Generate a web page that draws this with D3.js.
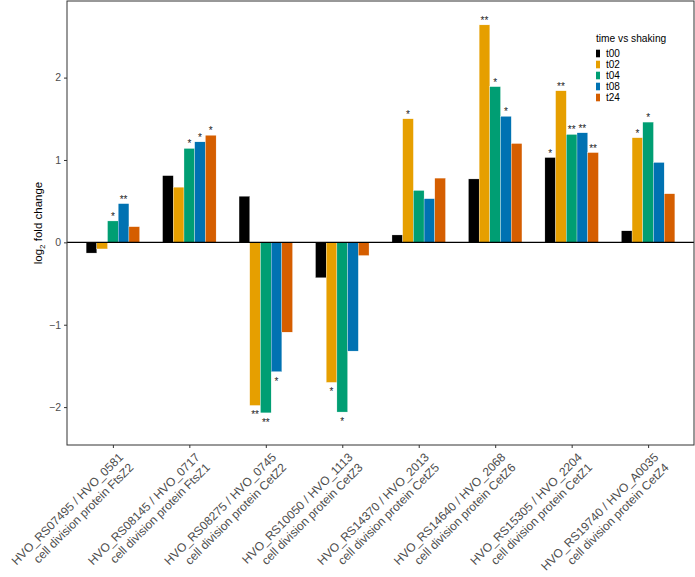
<!DOCTYPE html>
<html>
<head>
<meta charset="utf-8">
<script src="https://cdn.jsdelivr.net/npm/d3@7"></script>
<style>
  html, body { margin: 0; padding: 0; background: #fff; }
  svg { display: block; font-family: "Liberation Sans", Arial, Helvetica, sans-serif; }
</style>
</head>
<body>
<svg id="chart" width="695" height="577"></svg>
<script>
const genes = [
  ["HVO_RS07495 / HVO_0581", "cell division protein FtsZ2"],
  ["HVO_RS08145 / HVO_0717", "cell division protein FtsZ1"],
  ["HVO_RS08275 / HVO_0745", "cell division protein CetZ2"],
  ["HVO_RS10050 / HVO_1113", "cell division protein CetZ3"],
  ["HVO_RS14370 / HVO_2013", "cell division protein CetZ5"],
  ["HVO_RS14640 / HVO_2068", "cell division protein CetZ6"],
  ["HVO_RS15305 / HVO_2204", "cell division protein CetZ1"],
  ["HVO_RS19740 / HVO_A0035", "cell division protein CetZ4"]
];
const timepoints = ["t00", "t02", "t04", "t08", "t24"];
const colors = ["#000000", "#E69F00", "#009E73", "#0072B2", "#D55E00"];

// log2 fold change per timepoint (one array per series, order = genes)
const t00 = [-0.13, 0.81, 0.56, -0.43, 0.09, 0.77, 1.03, 0.14];
const t02 = [-0.08, 0.67, -1.98, -1.70, 1.50, 2.64, 1.84, 1.27];
const t04 = [0.26, 1.14, -2.07, -2.06, 0.63, 1.89, 1.31, 1.46];
const t08 = [0.47, 1.22, -1.57, -1.32, 0.53, 1.53, 1.33, 0.97];
const t24 = [0.19, 1.30, -1.09, -0.16, 0.78, 1.20, 1.09, 0.59];

// significance labels
const sig00 = ["", "", "", "", "", "", "*", ""];
const sig02 = ["", "", "**", "*", "*", "**", "**", "*"];
const sig04 = ["*", "*", "**", "*", "", "*", "**", "*"];
const sig08 = ["**", "*", "*", "", "", "*", "**", ""];
const sig24 = ["", "*", "", "", "", "", "**", ""];

const yTicks = [-2, -1, 0, 1, 2];
const yDomain = [-2.46, 2.93];

const series = [t00, t02, t04, t08, t24];
const sigs = [sig00, sig02, sig04, sig08, sig24];

const svg = d3.select("#chart");
const P = { left: 67, right: 694, top: 1, bottom: 445 };

const xPos = d3.scaleLinear().domain([0.4, genes.length + 0.6]).range([P.left, P.right]);
const y = d3.scaleLinear().domain(yDomain).range([P.bottom, P.top]);

const groupWidth = 0.7;
const barW = groupWidth / timepoints.length;

const data = [];
series.forEach((arr, si) => {
  arr.forEach((v, gi) => {
    data.push({ gi, si, v, sig: sigs[si][gi] });
  });
});

function gi1(d) { return d.gi + 1; }

// bars
svg.append("g").selectAll("rect").data(data).join("rect")
  .attr("x", d => xPos(gi1(d) - groupWidth / 2 + d.si * barW))
  .attr("width", d => xPos(barW) - xPos(0))
  .attr("y", d => y(Math.max(0, d.v)))
  .attr("height", d => Math.abs(y(d.v) - y(0)))
  .attr("fill", d => colors[d.si])
  .attr("stroke", "#ffffff")
  .attr("stroke-width", 0.3);

// significance stars
svg.append("g").selectAll("text").data(data.filter(d => d.sig)).join("text")
  .attr("x", d => xPos(gi1(d) - groupWidth / 2 + (d.si + 0.5) * barW))
  .attr("y", d => d.v >= 0 ? y(d.v) - 1 : y(d.v) + 13)
  .attr("text-anchor", "middle")
  .attr("font-size", 10)
  .attr("fill", "#222")
  .text(d => d.sig);

// zero line
svg.append("line")
  .attr("x1", P.left).attr("x2", P.right)
  .attr("y1", y(0)).attr("y2", y(0))
  .attr("stroke", "#000").attr("stroke-width", 1.1);

// panel border
svg.append("rect")
  .attr("x", P.left).attr("y", P.top)
  .attr("width", P.right - P.left).attr("height", P.bottom - P.top)
  .attr("fill", "none").attr("stroke", "#333").attr("stroke-width", 1);

// y axis
const yAxis = d3.axisLeft(y).tickValues(yTicks).tickSize(3).tickPadding(3)
  .tickFormat(d => d < 0 ? "\u2212" + Math.abs(d) : d);
const ya = svg.append("g").attr("transform", `translate(${P.left},0)`).call(yAxis);
ya.select(".domain").remove();
ya.selectAll("line").attr("stroke", "#333");
ya.selectAll("text").attr("font-size", 10.5).attr("fill", "#4d4d4d")
  .attr("font-family", "Liberation Sans, Arial, sans-serif");

// x axis
const xAxis = d3.axisBottom(xPos).tickValues(d3.range(1, genes.length + 1)).tickSize(3).tickFormat("");
const xa = svg.append("g").attr("transform", `translate(0,${P.bottom})`).call(xAxis);
xa.select(".domain").remove();
xa.selectAll("line").attr("stroke", "#333");

// x labels (rotated, two lines, right aligned)
const xl = svg.append("g").selectAll("g").data(genes).join("g")
  .attr("transform", (d, i) => `translate(${xPos(i + 1) + 5},${P.bottom + 7}) rotate(-45)`);
const t = xl.append("text")
  .attr("text-anchor", "end")
  .attr("font-size", 12)
  .attr("fill", "#4d4d4d");
t.append("tspan").attr("x", 0).attr("dy", "0.72em").text(d => d[0]);
t.append("tspan").attr("x", 0).attr("dy", "1.2em").text(d => d[1]);

// y title
const yt = svg.append("text")
  .attr("transform", `translate(42,${(P.top + P.bottom) / 2}) rotate(-90)`)
  .attr("text-anchor", "middle")
  .attr("font-size", 11.5)
  .attr("fill", "#000");
yt.append("tspan").text("log");
yt.append("tspan").attr("font-size", 8).attr("dy", 3).text("2");
yt.append("tspan").attr("dy", -3).text(" fold change");

// legend
const lg = svg.append("g").attr("transform", "translate(596,0)");
lg.append("text").attr("x", 0).attr("y", 42).attr("font-size", 10.2).attr("fill", "#000").text("time vs shaking");
const items = lg.selectAll("g.item").data(timepoints).join("g")
  .attr("class", "item")
  .attr("transform", (d, i) => `translate(0,${53.5 + i * 11})`);
items.append("rect").attr("x", 0).attr("y", -3.8).attr("width", 4).attr("height", 7.6)
  .attr("fill", (d, i) => colors[i]);
items.append("text").attr("x", 10).attr("y", 3.6).attr("font-size", 10).attr("fill", "#000").text(d => d);
</script>
</body>
</html>
